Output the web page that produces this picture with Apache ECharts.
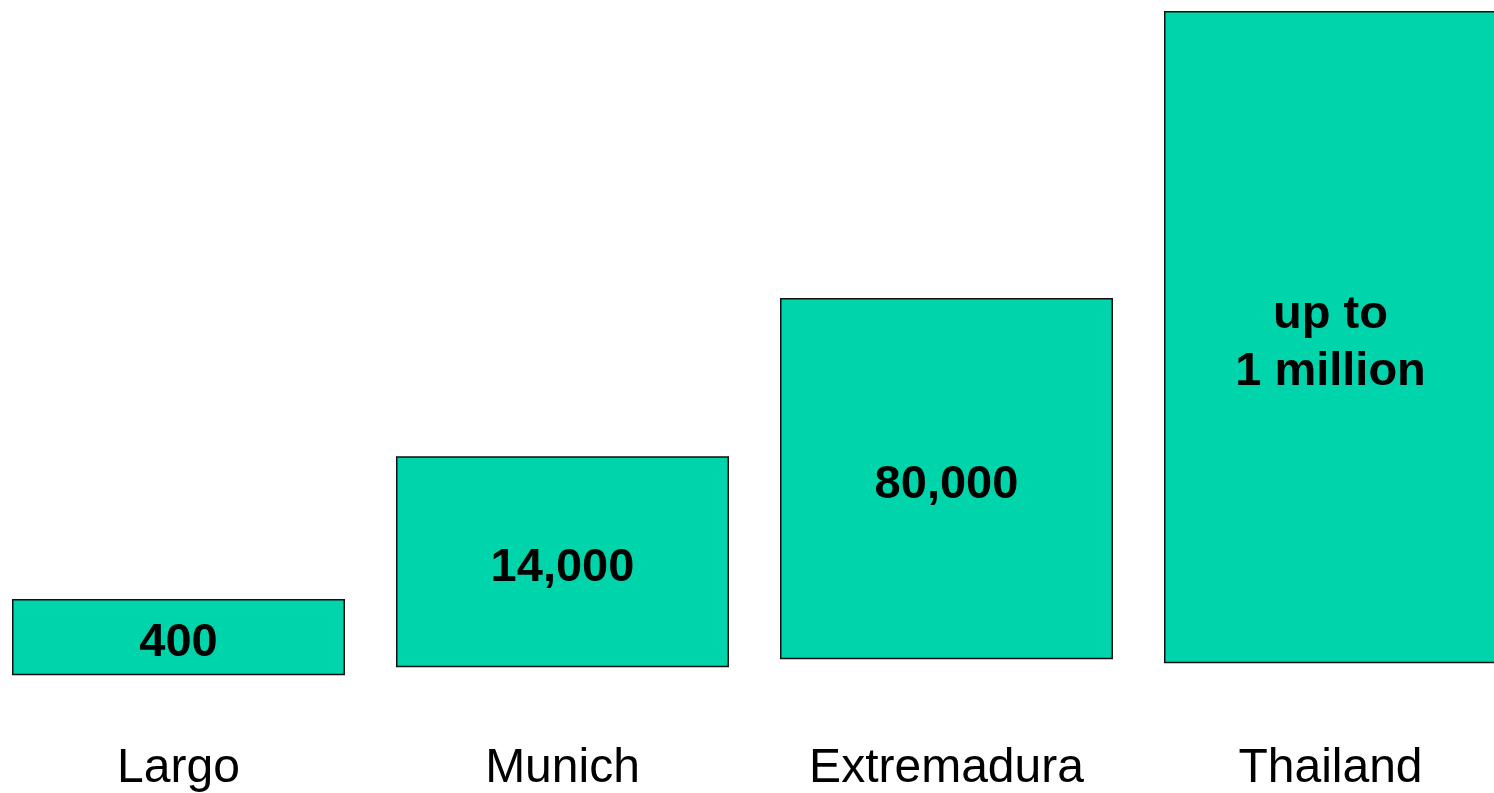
<!DOCTYPE html>
<html><head><meta charset="utf-8">
<script src="https://cdn.jsdelivr.net/npm/echarts@6/dist/echarts.min.js"></script>
<style>html,body{margin:0;padding:0;background:#fff}#c{width:1494px;height:793px}</style>
</head><body><div id="c"></div>
<script>
const categories = ['Largo', 'Munich', 'Extremadura', 'Thailand'];
const boxLabels = ['400', '14,000', '80,000', 'up to\n1 million'];
const boxBase = [14, 22, 30, 26];      // offset of each box bottom above the baseline (chart units)
const boxHeight = [77, 213, 365, 659]; // drawn height of each box (chart units)

const FONT = 'Liberation Sans, Arial, sans-serif';
const chart = echarts.init(document.getElementById('c'), null, {renderer: 'canvas'});
chart.setOption({
  animation: false,
  backgroundColor: '#ffffff',
  grid: {left: 178.5, right: 163.5, top: 0, bottom: 97, containLabel: false},
  xAxis: {
    type: 'category', data: categories, boundaryGap: false,
    axisLine: {show: false}, axisTick: {show: false}, splitLine: {show: false},
    axisLabel: {margin: 56, fontFamily: FONT, fontSize: 48, color: '#000', interval: 0}
  },
  yAxis: {type: 'value', min: 0, max: 696, show: false, splitLine: {show: false}},
  series: [
    {type: 'bar', stack: 's', data: boxBase, barWidth: 333, clip: false, silent: true,
     itemStyle: {color: 'transparent'}},
    {type: 'bar', stack: 's', barWidth: 333, clip: false,
     data: boxHeight.map((h, i) => ({value: h, label: {formatter: boxLabels[i]}})),
     itemStyle: {color: '#00D4AA', borderColor: '#111', borderWidth: 1.5},
     label: {show: true, position: 'inside', offset: [0, 6], fontFamily: FONT,
             fontWeight: 'bold', fontSize: 47, color: '#000', lineHeight: 57}}
  ]
});
</script></body></html>
